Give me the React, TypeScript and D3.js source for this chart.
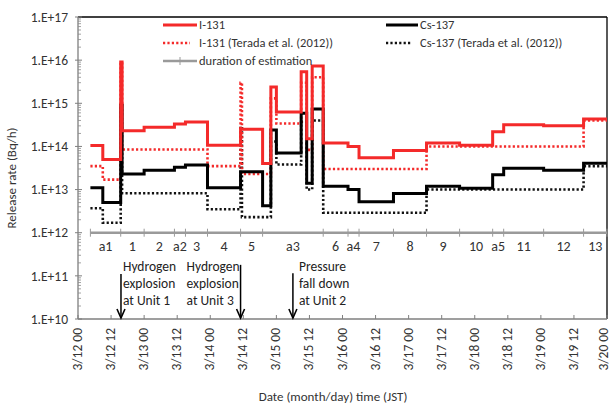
import * as d3 from "d3";

// hours since 3/12 00:00 JST where each estimation period starts
const edges = [4.5, 9, 15.5, 16, 24, 35, 39, 47, 59, 59.5, 67, 70, 72, 81, 83, 85, 89, 98, 102, 114.5, 126.5, 138.5, 150.5, 154.5, 169, 183.5];
const endHour = 192;

const i131 = [1.05e14, 5e13, 9e15, 2.3e14, 2.8e14, 3.3e14, 3.7e14, 1.07e14, 2.5e14, 2.5e14, 4e13, 2.4e15, 6.3e14, 5.4e15, 1.5e14, 7.3e15, 1.2e14, 1.0e14, 5.5e13, 8e13, 1.2e14, 1.07e14, 2.2e14, 3.2e14, 3e14, 4.3e14];
const cs137 = [1.1e13, 5e12, 9e14, 2.3e13, 2.8e13, 3.3e13, 3.7e13, 1.1e13, 2.6e13, 2.6e13, 4.2e12, 2.4e14, 7e13, 5.9e14, 1.4e13, 7.4e14, 1.2e13, 1.0e13, 5.2e12, 8.1e12, 1.2e13, 1.07e13, 2.2e13, 3.1e13, 2.8e13, 4.1e13];
const i131Terada = [3.5e13, 1.7e13, 9e15, 8.5e13, 8.5e13, 8.5e13, 8.5e13, 3.5e13, 3e15, 2.3e13, 2.3e13, 1.3e15, 3.4e14, 3e15, 8.3e13, 4e15, 3e13, 3e13, 3e13, 3e13, 1e14, 1e14, 1e14, 1e14, 1e14, 4e14];
const cs137Terada = [3.7e12, 1.7e12, 9e14, 8.2e12, 8.2e12, 8.2e12, 8.2e12, 3.5e12, 2.9e14, 2.3e12, 2.3e12, 1.3e14, 3.8e13, 3.7e14, 1.0e13, 4e14, 2.9e12, 2.9e12, 2.9e12, 2.9e12, 1e13, 1e13, 1e13, 1e13, 1e13, 3.5e13];

// duration of estimation: period boundaries and labels
const periodEdges = [4.5, 15.5, 24, 35, 39, 47, 59, 67, 89, 98, 102, 114.5, 126.5, 138.5, 150.5, 154.5, 169, 183.5, 192];
const periodLabels = ["a1", "1", "2", "a2", "3", "4", "5", "a3", "6", "a4", "7", "8", "9", "10", "a5", "11", "12", "13"];

const xTickLabels = ["3/12 00", "3/12 12", "3/13 00", "3/13 12", "3/14 00", "3/14 12", "3/15 00", "3/15 12", "3/16 00", "3/16 12", "3/17 00", "3/17 12", "3/18 00", "3/18 12", "3/19 00", "3/19 12", "3/20 00"];
const yTickLabels = ["1.E+10", "1.E+11", "1.E+12", "1.E+13", "1.E+14", "1.E+15", "1.E+16", "1.E+17"];

const events = [
  { hour: 15.6, lines: ["Hydrogen", "explosion", "at Unit 1"], top: 1.1e11, side: "right" },
  { hour: 59.0, lines: ["Hydrogen", "explosion", "at Unit 3"], top: 1.8e11, side: "left" },
  { hour: 78.0, lines: ["Pressure", "fall down", "at Unit 2"], top: 1.15e11, side: "right" },
];

const width = 611;
const height = 405;
const left = 78, right = 607, top = 17, bottom = 319;
const font = "Carlito, 'Liberation Sans Narrow', 'Open Sans', sans-serif";
const RED = "#f42a2a";

export default function App() {
  const x = d3.scaleLinear().domain([0, endHour]).range([left, right]);
  const y = d3.scaleLog().domain([1e10, 1e17]).range([bottom, top]);

  const stepLine = d3
    .line<[number, number]>()
    .x((d) => x(d[0]))
    .y((d) => y(d[1]))
    .curve(d3.curveStepAfter);

  const toPts = (vals: number[]): [number, number][] => [
    ...vals.map((v, i) => [edges[i], v] as [number, number]),
    [endHour, vals[vals.length - 1]],
  ];

  const series = [
    { vals: cs137Terada, color: "#111", dash: "2.2 2.2", w: 2.6 },
    { vals: i131Terada, color: RED, dash: "2.2 2.2", w: 2.6 },
    { vals: cs137, color: "#000", dash: null, w: 3 },
    { vals: i131, color: RED, dash: null, w: 3 },
  ];

  const majors = d3.range(10, 18).map((k) => Math.pow(10, k));
  const minors: number[] = [];
  for (let k = 10; k < 17; k++) for (let m = 2; m <= 9; m++) minors.push(m * Math.pow(10, k));

  const xTicks = d3.range(0, endHour + 1, 12);
  const estY = y(1e12);

  return (
    <svg width={width} height={height} style={{ position: "absolute", left: 0, top: 0, background: "#fff" }} fontFamily={font}>
      {/* frame */}
      <line x1={left} x2={right} y1={top} y2={top} stroke="#000" strokeWidth={1.3} />
      <line x1={right} x2={right} y1={top} y2={bottom} stroke="#000" strokeWidth={1.3} />
      <line x1={left} x2={right} y1={bottom} y2={bottom} stroke="#7f7f7f" strokeWidth={1.3} />
      <line x1={left} x2={left} y1={top} y2={bottom} stroke="#7f7f7f" strokeWidth={1.3} />

      {/* y ticks */}
      {minors.map((v, i) => (
        <line key={"mn" + i} x1={left} x2={left + 3} y1={y(v)} y2={y(v)} stroke="#8a8a8a" strokeWidth={0.8} />
      ))}
      {majors.map((v, i) => (
        <g key={"mj" + i}>
          <line x1={left - 3} x2={left + 4} y1={y(v)} y2={y(v)} stroke="#7f7f7f" strokeWidth={1} />
          <text x={left - 10} y={y(v)} dy="0.35em" textAnchor="end" fontSize={13.5} fill="#333">
            {yTickLabels[i]}
          </text>
        </g>
      ))}

      {/* x ticks */}
      {xTicks.map((h, i) => (
        <g key={"xt" + i}>
          <line x1={x(h)} x2={x(h)} y1={bottom} y2={bottom - 4} stroke="#7f7f7f" strokeWidth={1} />
          <text transform={`translate(${Math.min(x(h) + 4, 608)},${bottom + 9}) rotate(-90)`} textAnchor="end" fontSize={13.5} fill="#333">
            {xTickLabels[i]}
          </text>
        </g>
      ))}

      {/* duration of estimation */}
      <line x1={x(periodEdges[0])} x2={x(endHour)} y1={estY} y2={estY} stroke="#9a9a9a" strokeWidth={2.5} />
      {periodEdges.map((h, i) => (
        <line key={"pe" + i} x1={x(h)} x2={x(h)} y1={estY - 4} y2={estY + 4} stroke="#9a9a9a" strokeWidth={1} />
      ))}
      {periodLabels.map((l, i) => (
        <text key={"pl" + i} x={x((periodEdges[i] + periodEdges[i + 1]) / 2)} y={estY + 18} textAnchor="middle" fontSize={14} fill="#333">
          {l}
        </text>
      ))}

      {/* series */}
      {series.map((s, i) => (
        <path
          key={"s" + i}
          d={stepLine(toPts(s.vals)) || ""}
          fill="none"
          stroke={s.color}
          strokeWidth={s.w}
          strokeDasharray={s.dash || undefined}
          strokeLinejoin="miter"
        />
      ))}

      {/* events */}
      {events.map((e, i) => {
        const ax = x(e.hour);
        const tx = e.side === "left" ? ax - 54 : ax + (i === 2 ? 6 : 2);
        return (
          <g key={"ev" + i}>
            <line x1={ax} x2={ax} y1={y(e.top)} y2={bottom - 1} stroke="#000" strokeWidth={1.5} />
            <path d={`M${ax - 4},${bottom - 10} L${ax},${bottom - 1} L${ax + 4},${bottom - 10}`} fill="none" stroke="#000" strokeWidth={1.6} />
            {e.lines.map((t, j) => (
              <text key={j} x={tx} y={266 + j * 17} dy="0.35em" fontSize={13.5} fill="#222">
                {t}
              </text>
            ))}
          </g>
        );
      })}

      {/* legend */}
      <g fontSize={12.5} fill="#333">
        <line x1={163} x2={197} y1={25} y2={25} stroke={RED} strokeWidth={3} />
        <text x={199} y={25} dy="0.35em">I-131</text>
        <line x1={163} x2={190} y1={43} y2={43} stroke={RED} strokeWidth={2.6} strokeDasharray="2.2 2.2" />
        <text x={199} y={43} dy="0.35em">I-131 (Terada et al. (2012))</text>
        <line x1={163} x2={197} y1={61} y2={61} stroke="#9a9a9a" strokeWidth={2.5} />
        <line x1={180} x2={180} y1={57} y2={65} stroke="#9a9a9a" strokeWidth={1} />
        <text x={199} y={61} dy="0.35em">duration of estimation</text>
        <line x1={386} x2={418} y1={25} y2={25} stroke="#000" strokeWidth={3} />
        <text x={420} y={25} dy="0.35em">Cs-137</text>
        <line x1={386} x2={412} y1={43} y2={43} stroke="#111" strokeWidth={2.6} strokeDasharray="2.2 2.2" />
        <text x={420} y={43} dy="0.35em">Cs-137 (Terada et al. (2012))</text>
      </g>

      {/* axis titles */}
      <text transform={`translate(16,${(top + bottom) / 2 + 10}) rotate(-90)`} textAnchor="middle" fontSize={13} fill="#333">
        Release rate (Bq/h)
      </text>
      <text x={333} y={396} dy="0.35em" textAnchor="middle" fontSize={13} fill="#333">
        Date (month/day) time (JST)
      </text>
    </svg>
  );
}
